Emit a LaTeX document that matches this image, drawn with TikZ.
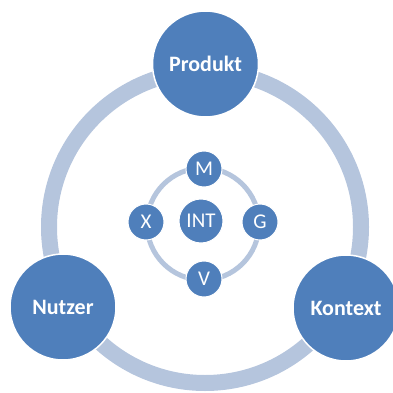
\documentclass[tikz,border=0pt]{standalone}
\usepackage{fontspec}
\setmainfont{Carlito}
\definecolor{kreisblau}{HTML}{4F7FBB}
\definecolor{ringblau}{HTML}{B5C5DD}
\begin{document}
\begin{tikzpicture}[x=1pt,y=-1pt,
  gross/.style={circle,fill=kreisblau,draw=white,line width=1.5pt,minimum size=106pt,inner sep=0pt,text=white,font=\fontsize{22}{26}\selectfont\bfseries},
  klein/.style={circle,fill=kreisblau,draw=white,line width=1pt,minimum size=36pt,inner sep=0pt,text=white,font=\fontsize{21}{24}\selectfont}]
\useasboundingbox (0,0) rectangle (392,393);
% outer ring and the three big circles
\draw [ringblau,line width=16pt] (205,227) circle (156pt);
\node [gross] (produkt) at (205.5,64) {Produkt};
\node [gross] (nutzer) at (63,307) {Nutzer};
\node [gross] (kontext) at (346,308) {Kontext};
% inner ring
\draw [ringblau,line width=5pt] (203,224) circle (56pt);
\node [klein,minimum size=44pt] (int) at (201,221) {INT};
\node [klein] (m) at (204,169) {M};
\node [klein] (x) at (146,222) {X};
\node [klein] (g) at (260,222) {G};
\node [klein] (v) at (204,279) {V};
\end{tikzpicture}
\end{document}
